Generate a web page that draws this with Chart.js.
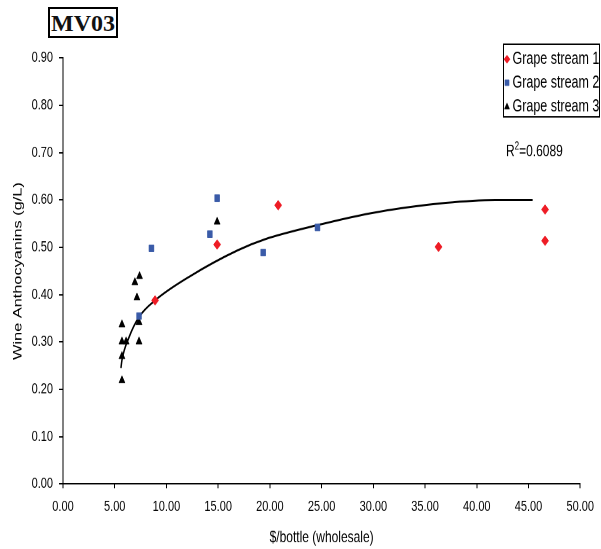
<!DOCTYPE html>
<html>
<head>
<meta charset="utf-8">
<script src="https://cdn.jsdelivr.net/npm/chart.js@4.4.1/dist/chart.umd.min.js"></script>
<style>
  html, body { margin: 0; padding: 0; background: #fff; }
  #wrap { position: relative; width: 601px; height: 549px; overflow: hidden; }
  /* chart is drawn 601x404 and stretched to the full page height */
  #chart { position: absolute; left: 0; top: 0; transform-origin: 0 0; transform: scaleY(1.35891); }
  #title {
    position: absolute; left: 48px; top: 7px; width: 70px; height: 31px;
    box-sizing: border-box; border: 2px solid #000; background: #fff;
    font: bold 24px "Liberation Serif", "Times New Roman", serif;
    line-height: 28px; text-align: center; color: #111;
  }
</style>
</head>
<body>
<div id="wrap">
  <canvas id="chart" width="601" height="404"></canvas>
  <div id="title">MV03</div>
</div>
<script>
( function () {
    'use strict';

    var seriesNames = [ 'Grape stream 1', 'Grape stream 2', 'Grape stream 3' ];

    var stream1X = [ 8.9, 14.9, 20.8, 36.3, 46.6, 46.6 ];
    var stream1Y = [ 0.388, 0.506, 0.589, 0.501, 0.580, 0.514 ];

    var stream2X = [ 7.35, 8.55, 14.2, 14.9, 19.35, 24.6 ];
    var stream2Y = [ 0.355, 0.498, 0.528, 0.604, 0.489, 0.542 ];

    var stream3X = [ 5.7, 5.7, 5.7, 5.7, 6.1, 7.35, 7.35, 7.15, 6.95, 7.4, 14.9 ];
    var stream3Y = [ 0.219, 0.270, 0.301, 0.337, 0.301, 0.301, 0.342, 0.394, 0.426, 0.439, 0.554 ];

    // fitted trend line, traced along its length
    var trendX = [ 5.6, 5.7, 6.4, 7.35, 8.95, 12.2, 16.9, 19.5, 24.6, 29.7, 37.0, 41.8, 45.4 ];
    var trendY = [ 0.245, 0.262, 0.311, 0.353, 0.389, 0.438, 0.494, 0.517, 0.547, 0.572, 0.594, 0.600, 0.600 ];

    var xTicks = [ 0, 5, 10, 15, 20, 25, 30, 35, 40, 45, 50 ];
    var yTicks = [ 0, 0.1, 0.2, 0.3, 0.4, 0.5, 0.6, 0.7, 0.8, 0.9 ];

    var rSquared = '0.6089';

    var colors  = [ '#ee1c25', '#3a5ba8', '#000000' ];
    var markers = [ 'rectRot', 'rect', 'triangle' ];
    var radii   = [ 3.6, 3.5, 3.5 ];

    function points( xs, ys ) {
        return xs.map( function ( x, i ) { return { x: x, y: ys[ i ] }; } );
    }

    Chart.defaults.font.family = '"Liberation Sans", Arial, sans-serif';
    Chart.defaults.color = '#000';

    var seriesX = [ stream1X, stream2X, stream3X ];
    var seriesY = [ stream1Y, stream2Y, stream3Y ];

    var datasets = seriesNames.map( function ( name, i ) {
        return {
            type:            'scatter',
            label:           name,
            data:            points( seriesX[ i ], seriesY[ i ] ),
            pointStyle:      markers[ i ],
            pointRadius:     radii[ i ],
            backgroundColor: colors[ i ],
            borderColor:     colors[ i ],
            borderWidth:     0.5,
            order:           i,
        };
    } );

    datasets.push( {
        type:                   'line',
        label:                  'trend',
        data:                   points( trendX, trendY ),
        borderColor:            '#000',
        borderWidth:            1.5,
        pointRadius:            0,
        fill:                   false,
        cubicInterpolationMode: 'monotone',
        order:                  10,
    } );

    /* ── Legend box and R² label ─────────────────────────────────────────── */
    var extras = {
        id: 'extras',
        afterDraw: function ( chart ) {
            var ctx = chart.ctx;
            ctx.save();

            ctx.strokeStyle = '#000';
            ctx.lineWidth = 1;
            ctx.strokeRect( 503.5, 32.5, 96, 53.5 );

            var rowY = [ 43.6, 60.9, 78.7 ];
            ctx.font = '12.5px "Liberation Sans", Arial, sans-serif';
            ctx.textBaseline = 'middle';
            ctx.textAlign = 'left';
            seriesNames.forEach( function ( name, i ) {
                ctx.fillStyle = colors[ i ];
                ctx.strokeStyle = colors[ i ];
                ctx.lineWidth = 0.5;
                Chart.helpers.drawPoint( ctx, {
                    pointStyle: markers[ i ], radius: radii[ i ] - 0.6, rotation: 0, borderWidth: 0.5,
                }, 507, rowY[ i ] );
                ctx.fillStyle = '#000';
                ctx.fillText( name, 512.5, rowY[ i ] );
            } );

            ctx.fillStyle = '#000';
            ctx.font = '12px "Liberation Sans", Arial, sans-serif';
            ctx.fillText( 'R', 506, 111.6 );
            var rw = ctx.measureText( 'R' ).width;
            ctx.font = '8px "Liberation Sans", Arial, sans-serif';
            ctx.fillText( '2', 506 + rw, 108 );
            var sw = ctx.measureText( '2' ).width;
            ctx.font = '12px "Liberation Sans", Arial, sans-serif';
            ctx.fillText( '=' + rSquared, 506 + rw + sw, 111.6 );

            ctx.restore();
        },
    };

    new Chart( document.getElementById( 'chart' ), {
        data: { datasets: datasets },
        options: {
            responsive:       false,
            animation:        false,
            devicePixelRatio: 2,
            layout: {
                autoPadding: false,
                padding: { left: 0, top: 42.7, right: 16, bottom: 0 },
            },
            plugins: {
                legend:  { display: false },
                tooltip: { enabled: false },
            },
            scales: {
                x: {
                    type: 'linear',
                    min: 0,
                    max: 50,
                    afterBuildTicks: function ( scale ) {
                        scale.ticks = xTicks.map( function ( v ) { return { value: v }; } );
                    },
                    afterFit: function ( scale ) { scale.height = 47.8; },
                    grid:   { drawOnChartArea: false, color: '#000', tickLength: 3 },
                    border: { color: '#000', width: 1 },
                    ticks: {
                        padding: 7,
                        maxRotation: 0,
                        font: { size: 11 },
                        callback: function ( v ) { return v.toFixed( 2 ); },
                    },
                    title: {
                        display: true,
                        text: '$/bottle (wholesale)',
                        font: { size: 12 },
                        padding: { top: 0, bottom: 1 },
                    },
                },
                y: {
                    type: 'linear',
                    min: 0,
                    max: 0.9,
                    afterBuildTicks: function ( scale ) {
                        scale.ticks = yTicks.map( function ( v ) { return { value: v }; } );
                    },
                    afterFit: function ( scale ) { scale.width = 63; },
                    grid:   { drawOnChartArea: false, color: '#000', tickLength: 4 },
                    border: { color: '#000', width: 1 },
                    ticks: {
                        padding: 6,
                        font: { size: 11 },
                        callback: function ( v ) { return v.toFixed( 2 ); },
                    },
                    title: {
                        display: true,
                        text: 'Wine Anthocyanins (g/L)',
                        font: { size: 12 },
                        padding: { top: 11, bottom: 0 },
                    },
                },
            },
        },
        plugins: [ extras ],
    } );

} )();
</script>
</body>
</html>
